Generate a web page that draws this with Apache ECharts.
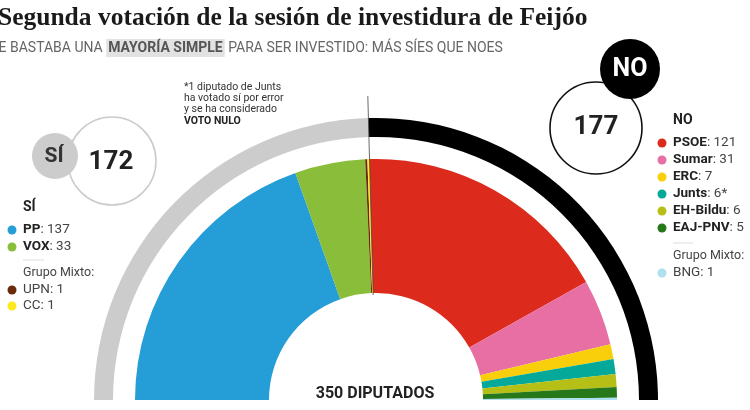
<!DOCTYPE html>
<html>
<head>
<meta charset="utf-8">
<style>
  html, body { margin: 0; padding: 0; background: #fff; }
  #chart { width: 750px; height: 410px; }
</style>
<script src="https://cdn.jsdelivr.net/npm/echarts@6/dist/echarts.min.js"></script>
</head>
<body>
<div id="chart"></div>
<script>
var siNames = ['PP', 'VOX', 'UPN', 'CC'];
var siValues = [137, 33, 1, 1];
var siColors = ['#259dd6', '#8abd3a', '#6b2a0a', '#ffe81f'];

var noNames = ['PSOE', 'Sumar', 'ERC', 'Junts', 'EH-Bildu', 'EAJ-PNV', 'BNG'];
var noValues = [121, 31, 7, 6, 6, 5, 1];
var noColors = ['#dc2a1d', '#e86fa3', '#f8cf0a', '#04a99a', '#b6bf16', '#26781b', '#aee0f0'];

var nullVotes = 1; // the Junts deputy whose vote was void, drawn with Junts
var totalSeats = 350;
var siTotal = 172;
var noTotal = 177;

var noteLines = ['*1 diputado de Junts', 'ha votado sí por error', 'y se ha considerado'];

var chart = echarts.init(document.getElementById('chart'));
var cx = 376, cy = 400;
var sans = 'Roboto, sans-serif';

var seats = [];
siNames.forEach(function (n, i) {
    seats.push({ name: n, value: siValues[i], itemStyle: { color: siColors[i] } });
});
noNames.forEach(function (n, i) {
    var v = n === 'Junts' ? noValues[i] + nullVotes : noValues[i];
    seats.push({ name: n, value: v, itemStyle: { color: noColors[i] } });
});

function txt(x, y, text, size, weight, color, align, rich) {
    return {
        type: 'text', x: x, y: y, z: 20,
        style: {
            text: text, fontFamily: sans, fontSize: size, fontWeight: weight, fill: color,
            align: align || 'left', verticalAlign: 'middle', rich: rich
        }
    };
}
function circle(x, y, r, fill, stroke, z) {
    return {
        type: 'circle', shape: { cx: x, cy: y, r: r }, z: z,
        style: { fill: fill, stroke: stroke || null, lineWidth: stroke ? 1.6 : 0 }
    };
}
var legendRich = {
    b: { fontFamily: sans, fontSize: 13.5, fontWeight: 'bold', fill: '#222' },
    r: { fontFamily: sans, fontSize: 13.5, fill: '#444' }
};
function legendRow(x, y, name, value, color, bold, mark) {
    return [
        circle(x - 11, y, 4.5, color, null, 20),
        txt(x, y, '{' + (bold ? 'b' : 'r') + '|' + name + '}{r|: ' + value + (mark || '') + '}', 13.5, 'normal', '#444', 'left', legendRich)
    ];
}

var g = [];

// title and subtitle run off the left edge, as in the source image
g.push({
    type: 'text', x: -2, y: 18, z: 20,
    style: {
        text: 'Segunda votación de la sesión de investidura de Feijóo',
        fontFamily: '"Liberation Serif", serif', fontSize: 25.5, fontWeight: 'bold',
        fill: '#1a1a1a', verticalAlign: 'middle'
    }
});
g.push(txt(-9, 48, 'LE BASTABA UNA {h|MAYORÍA SIMPLE} PARA SER INVESTIDO: MÁS SÍES QUE NOES', 14, 'normal', '#666', 'left', {
    h: {
        fontFamily: sans, fontSize: 14, fontWeight: 'bold', fill: '#555',
        backgroundColor: '#e2e2e2', padding: [2, 2, 2, 2]
    }
}));

// note
noteLines.forEach(function (l, i) {
    g.push(txt(184, 87 + i * 11.4, l, 10.5, 'normal', '#333'));
});
g.push(txt(184, 121, 'VOTO NULO', 10.5, 'bold', '#222'));

// radial divider, angle taken from the Sí seats
var dividerAngle = (0.5 - siTotal / totalSeats) * Math.PI;
g.push({
    type: 'line', z: 15,
    shape: {
        x1: cx - 304 * Math.sin(dividerAngle), y1: cy - 304 * Math.cos(dividerAngle),
        x2: cx - 105 * Math.sin(dividerAngle), y2: cy - 105 * Math.cos(dividerAngle)
    },
    style: { stroke: '#444', lineWidth: 0.8 }
});

// totals
g.push(circle(112, 161, 44, '#fff', '#ccc', 10));
g.push(circle(55, 156, 23, '#ccc', null, 11));
g.push(txt(54, 157, 'SÍ', 21, 'bold', '#333', 'center'));
g.push(txt(111, 162, String(siTotal), 26, 'bold', '#222', 'center'));
g.push(circle(596, 128, 46, '#fff', '#111', 10));
g.push(circle(630, 69, 30, '#000', null, 11));
g.push(txt(630, 70, 'NO', 25, 'bold', '#fff', 'center'));
g.push(txt(596, 127, String(noTotal), 26, 'bold', '#222', 'center'));

// left legend
g.push(txt(23, 207, 'SÍ', 14, 'bold', '#222'));
g = g.concat(legendRow(23, 230, siNames[0], siValues[0], siColors[0], true));
g = g.concat(legendRow(23, 247, siNames[1], siValues[1], siColors[1], true));
g.push({ type: 'line', z: 20, shape: { x1: 23, y1: 260, x2: 44, y2: 260 }, style: { stroke: '#ddd', lineWidth: 1 } });
g.push(txt(23, 273, 'Grupo Mixto:', 12.5, 'normal', '#444'));
g = g.concat(legendRow(23, 290, siNames[2], siValues[2], siColors[2], false));
g = g.concat(legendRow(23, 306, siNames[3], siValues[3], siColors[3], false));

// right legend
g.push(txt(673, 120, 'NO', 14, 'bold', '#222'));
noNames.slice(0, 6).forEach(function (n, i) {
    g = g.concat(legendRow(673, 143 + i * 17, n, noValues[i], noColors[i], true, n === 'Junts' ? '*' : ''));
});
g.push({ type: 'line', z: 20, shape: { x1: 673, y1: 243, x2: 693, y2: 243 }, style: { stroke: '#ddd', lineWidth: 1 } });
g.push(txt(673, 256, 'Grupo Mixto:', 12.5, 'normal', '#444'));
g = g.concat(legendRow(673, 273, noNames[6], noValues[6], noColors[6], false));

g.push(txt(375, 394, totalSeats + ' DIPUTADOS', 16, 'bold', '#222', 'center'));

chart.setOption({
    animation: false,
    backgroundColor: '#fff',
    series: [
        {
            type: 'pie', silent: true, center: [cx, cy], radius: [107, 241],
            startAngle: 180, endAngle: 0, label: { show: false }, labelLine: { show: false },
            data: seats
        },
        {
            type: 'pie', silent: true, center: [cx, cy], radius: [263, 282],
            startAngle: 180, endAngle: 0, label: { show: false }, labelLine: { show: false },
            data: [
                { name: 'SÍ', value: siTotal, itemStyle: { color: '#cccccc' } },
                { name: 'NO', value: noTotal + nullVotes, itemStyle: { color: '#000000' } }
            ]
        }
    ],
    graphic: g
});
</script>
</body>
</html>
